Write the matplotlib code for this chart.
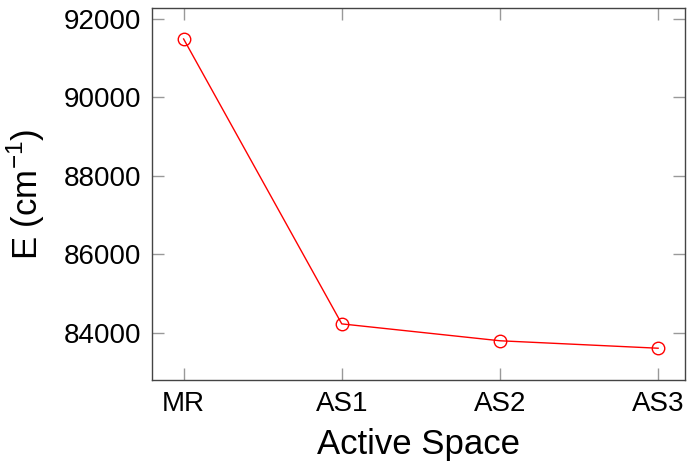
import matplotlib
matplotlib.use('Agg')
import matplotlib.pyplot as plt

spaces = ['MR', 'AS1', 'AS2', 'AS3']
energies = [91490, 84230, 83800, 83610]
yticks = [84000, 86000, 88000, 90000, 92000]

plt.rcParams['font.family'] = ['Liberation Sans', 'DejaVu Sans']
plt.rcParams['mathtext.fontset'] = 'custom'
plt.rcParams['mathtext.rm'] = 'Liberation Sans'

fig = plt.figure(figsize=(6.89, 4.68), dpi=100)
ax = fig.add_axes([0.2206, 0.188, 0.7736, 0.795])

x = list(range(len(spaces)))
ax.plot(x, energies, color='red', linewidth=1.0, marker='o', markersize=9,
        markerfacecolor='none', markeredgecolor='red', markeredgewidth=1.0)

ax.set_xlim(-0.2, 3.17)
ax.set_ylim(82800, 92280)
ax.set_xticks(x)
ax.set_xticklabels(spaces)
ax.set_yticks(yticks)
ax.set_yticklabels([str(v) for v in yticks])

ax.tick_params(direction='in', length=8.5, width=1, color='#999999',
               top=True, right=True, labelsize=20, pad=8)
for s in ax.spines.values():
    s.set_color('#444444')
    s.set_linewidth(1.0)

ax.set_xlabel('Active Space', fontsize=25, labelpad=8)
ax.set_ylabel(r'E (cm$^{-1}$)', fontsize=25, labelpad=12)

fig.savefig('out.png', dpi=100)
